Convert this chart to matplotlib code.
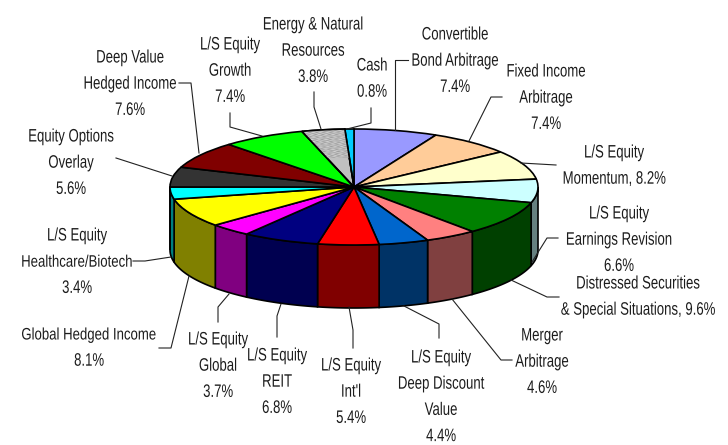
import matplotlib
matplotlib.use("Agg")
import matplotlib.pyplot as plt
from matplotlib.patches import Polygon, Wedge
from matplotlib.patheffects import AbstractPathEffect
from matplotlib.transforms import Affine2D
import numpy as np

# slices, clockwise from 12 o'clock
names = ["Convertible Bond Arbitrage", "Fixed Income Arbitrage", "L/S Equity Momentum",
         "L/S Equity Earnings Revision", "Distressed Securities & Special Situations",
         "Merger Arbitrage", "L/S Equity Deep Discount Value", "L/S Equity Int'l",
         "L/S Equity REIT", "L/S Equity Global", "Global Hedged Income",
         "L/S Equity Healthcare/Biotech", "Equity Options Overlay", "Deep Value Hedged Income",
         "L/S Equity Growth", "Energy & Natural Resources", "Cash"]
values = [7.4, 7.4, 8.2, 6.6, 9.6, 4.6, 4.4, 5.4, 6.8, 3.7, 8.1, 3.4, 5.6, 7.6, 7.4, 3.8, 0.8]
top_colors = ["#9999FF", "#FFCC99", "#FFFFCC", "#CCFFFF", "#008000", "#FF8080", "#0066CC",
              "#FF0000", "#000080", "#FF00FF", "#FFFF00", "#00FFFF", "#333333", "#800000",
              "#00FF00", "#C0C0C0", "#00CCFF"]
side_colors = ["#4D4D80", "#806650", "#808066", "#668080", "#004000", "#804040", "#003366",
               "#800000", "#000050", "#800080", "#808000", "#008080", "#1A1A1A", "#400000",
               "#008000", "#606060", "#006680"]

# label text, x centre, y of first line centre (pixels)
labels = [
    ("Convertible\nBond Arbitrage\n7.4%", 455, 34),
    ("Fixed Income\nArbitrage\n7.4%", 546, 71),
    ("L/S Equity\nMomentum, 8.2%", 614, 152),
    ("L/S Equity\nEarnings Revision\n6.6%", 619, 213),
    ("Distressed Securities\n& Special Situations, 9.6%", 638, 283),
    ("Merger\nArbitrage\n4.6%", 542, 335),
    ("L/S Equity\nDeep Discount\nValue\n4.4%", 441, 357),
    ("L/S Equity\nInt'l\n5.4%", 351, 365),
    ("L/S Equity\nREIT\n6.8%", 277, 355),
    ("L/S Equity\nGlobal\n3.7%", 218, 339),
    ("Global Hedged Income\n8.1%", 89, 334),
    ("L/S Equity\nHealthcare/Biotech\n3.4%", 77, 235),
    ("Equity Options\nOverlay\n5.6%", 71, 136),
    ("Deep Value\nHedged Income\n7.6%", 130, 57),
    ("L/S Equity\nGrowth\n7.4%", 230, 44),
    ("Energy & Natural\nResources\n3.8%", 313, 24),
    ("Cash\n0.8%", 372, 65),
]
leaders = [
    [(408, 60), (395, 60), (395, 130)],
    [(502, 97), (491, 97), (469, 141)],
    [(556, 165), (521, 163)],
    [(558, 238), (547, 238), (532, 262)],
    [(559, 297), (547, 297), (511, 280)],
    [(512, 360), (501, 360), (452, 299)],
    [(439, 338), (439, 324), (404, 306)],
    [(353, 348), (353, 330), (349, 307)],
    [(277, 337), (277, 316), (281, 304)],
    [(218, 322), (218, 307), (229, 294)],
    [(159, 348), (171, 348), (189, 276)],
    [(133, 261), (145, 261), (171, 257)],
    [(116, 158), (172, 176)],
    [(179, 83), (191, 83), (199, 153)],
    [(230, 113), (230, 127), (262, 136)],
    [(314, 92), (314, 107), (321, 129)],
    [(371, 108), (371, 123), (347, 129)],
]

W, H = 728, 445
cx, cy, rx, ry, depth = 354, 187, 184, 58, 63
squeeze_x = 0.73
plt.rcParams["font.family"] = ["Liberation Sans"]


class Narrow(AbstractPathEffect):
    # squeezes the glyphs sideways about x0 (no Arial Narrow here)
    def __init__(self, x0, factor):
        super().__init__()
        self.x0 = x0
        self.factor = factor

    def draw_path(self, renderer, gc, tpath, affine, rgbFace=None):
        squeeze = Affine2D().translate(-self.x0, 0).scale(self.factor, 1).translate(self.x0, 0)
        renderer.draw_path(gc, tpath, affine + squeeze, rgbFace)


fig = plt.figure(figsize=(W / 100, H / 100), dpi=100)

# pie axes covers the bounding box of the top ellipse, so the circle gets squashed
ax = fig.add_axes([(cx - rx) / W, (H - cy - ry) / H, 2 * rx / W, 2 * ry / H])
wedges, _ = ax.pie(values, colors=top_colors, startangle=90, counterclock=False, radius=1,
                   wedgeprops={"edgecolor": "black", "linewidth": 1.2, "zorder": 3})
ax.set_aspect("auto")
ax.set_xlim(-1, 1)
ax.set_ylim(-1, 1)
ax.axis("off")

# front wall of the cake
dz = 2 * depth / (2 * ry)
ends = 90 - 360 * np.cumsum(values) / np.sum(values)
starts = np.r_[90, ends[:-1]]
for a, b, c in zip(starts, ends, side_colors):
    hi, lo = min(a, 0), max(b, -180)
    if hi <= lo:
        continue
    t = np.radians(np.linspace(hi, lo, 40))
    x, y = np.cos(t), np.sin(t)
    pts = np.r_[np.c_[x, y], np.c_[x[::-1], y[::-1] - dz]]
    ax.add_patch(Polygon(pts, closed=True, facecolor=c, edgecolor="black", linewidth=1.2,
                         zorder=2, clip_on=False))

# stone texture for the energy slice
w = wedges[names.index("Energy & Natural Resources")]
yy, xx = np.mgrid[0:70, 0:90]
tex = (0.72 + 0.08 * np.sin(xx * 0.9 + 3 * np.sin(yy * 0.6))
       + 0.08 * np.sin(yy * 1.3 + 2.5 * np.sin(xx * 0.5)))
im = ax.imshow(tex, cmap="gray", vmin=0, vmax=1, aspect="auto", zorder=3.5,
               extent=(-0.45, 0.05, 0.5, 1.05), interpolation="bilinear")
im.set_clip_path(w)
ax.set_xlim(-1, 1)
ax.set_ylim(-1, 1)
ax.add_patch(Wedge(w.center, w.r, w.theta1, w.theta2, fill=False, edgecolor="black",
                   linewidth=1.2, zorder=4, clip_on=False))
for p in wedges:
    p.set_clip_on(False)

# labels and leader lines in pixel coordinates
over = fig.add_axes([0, 0, 1, 1], zorder=5)
over.set_xlim(0, W)
over.set_ylim(H, 0)
over.axis("off")
line_gap = 26.2
rend = fig.canvas.get_renderer()
for (txt, x, y), pts in zip(labels, leaders):
    for i, line in enumerate(txt.split("\n")):
        t = over.text(x, y + i * line_gap + 5.5, line, ha="center", va="baseline", fontsize=13,
                      color="#1c1c1c")
        box = t.get_window_extent(rend)
        anchor, factor = x, squeeze_x
        if box.x1 > W - 3:
            # long line at the right edge: anchor on its squeezed end
            anchor = x + box.width * squeeze_x / 2
            t.set_ha("right")
        elif box.x0 < 3:
            # long line at the left edge: slightly smaller, squeezed less
            t.set_fontsize(12)
            factor = squeeze_x * 13 / 12
        t.set_x(anchor)
        t.set_path_effects([Narrow(anchor, factor)])
    px, py = zip(*pts)
    over.plot(px, py, color="#222222", linewidth=0.8)

fig.savefig("out.png", dpi=100)
